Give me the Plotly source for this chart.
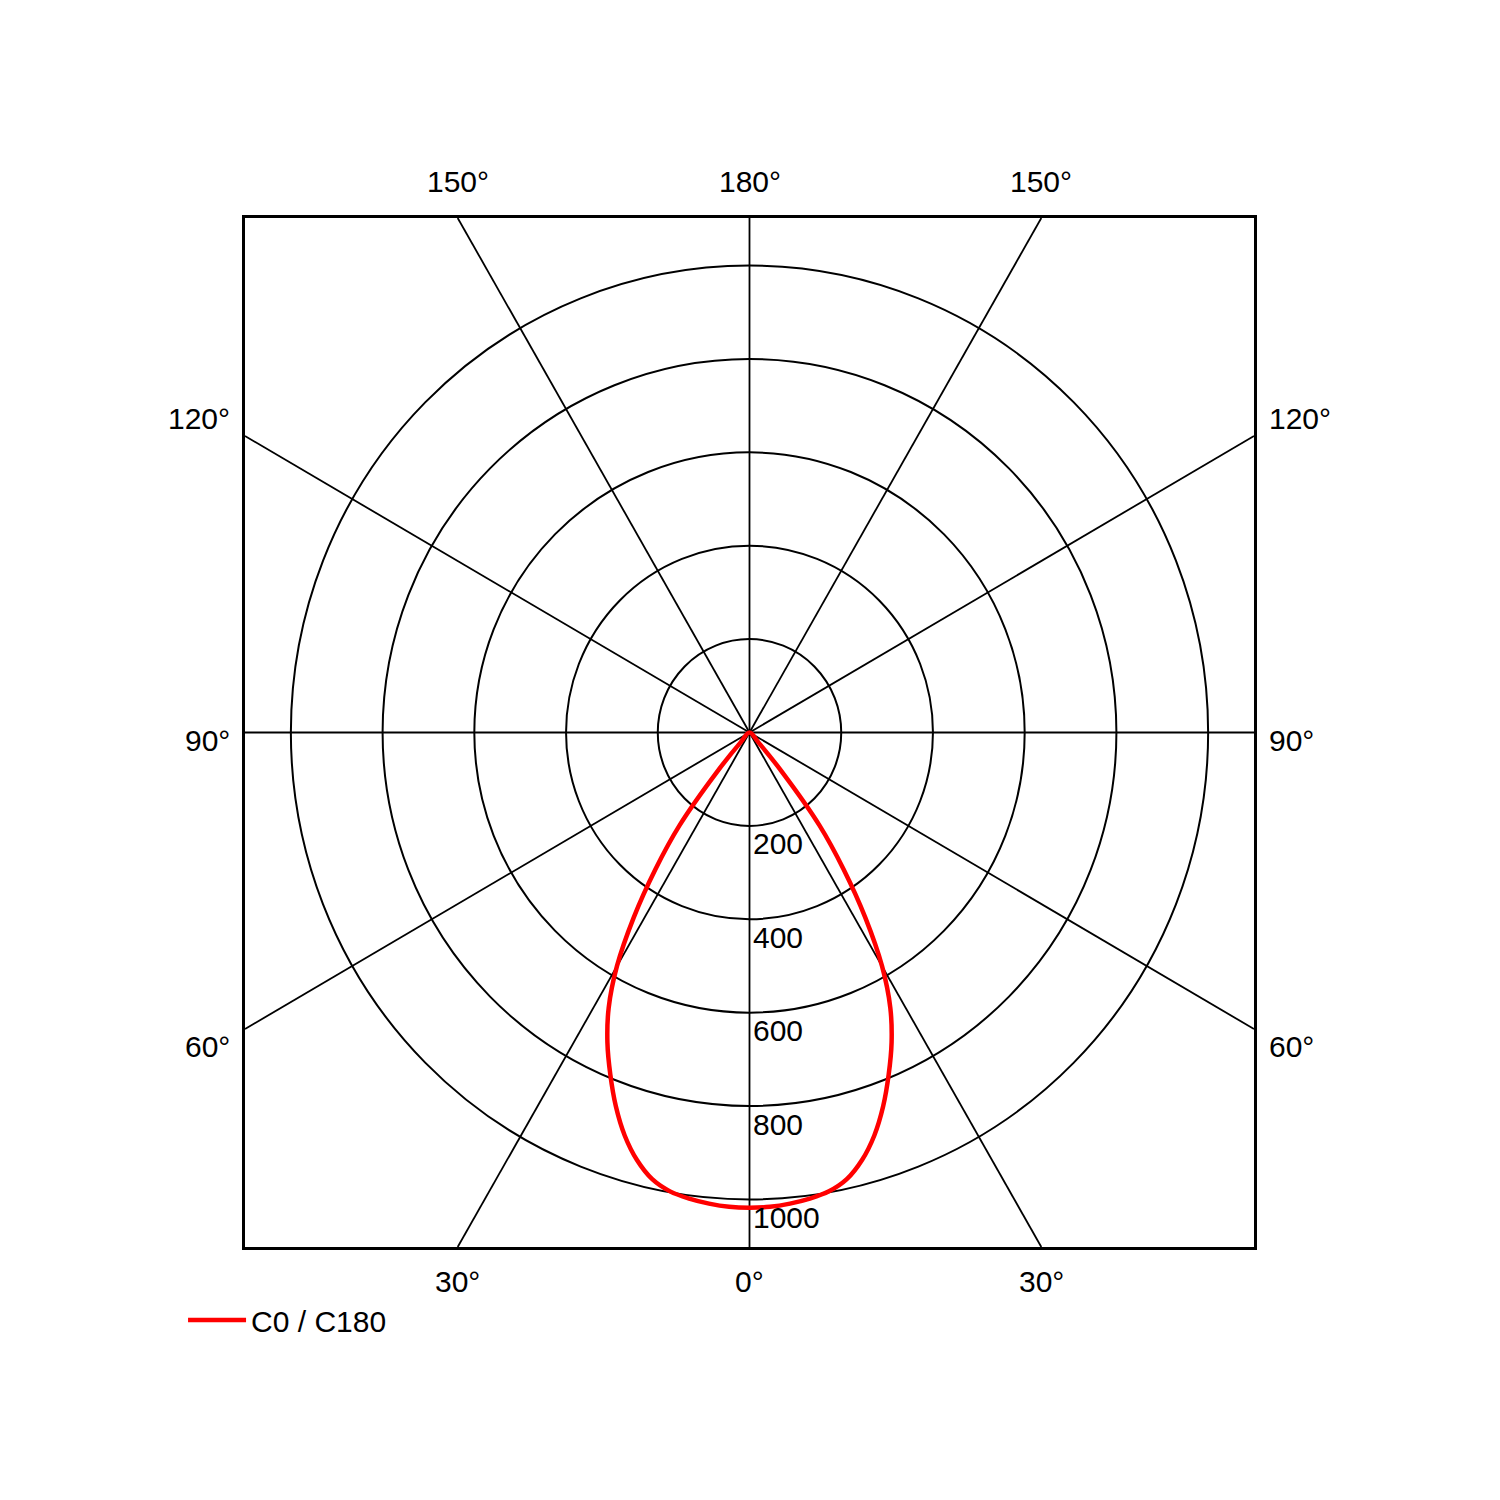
import numpy as np
import plotly.graph_objects as go

# luminous intensity distribution, C0 / C180 plane (symmetric)
gamma_deg = [0, 2.5, 5, 7.5, 10, 12.5, 15, 17.5, 20, 22.5, 25, 27.5, 30, 32.5, 35, 37.5, 40, 42.5, 45]
intensity_cd = [1018, 1017, 1013, 1007, 998, 980, 948, 905, 852, 793, 733, 665, 578, 470, 358, 250, 112, 28, 0]

ring_values = [200, 400, 600, 800, 1000]
spoke_angles = [0, 30, 60, 90, 120, 150, 180]
angle_labels = ["0°", "30°", "60°", "90°", "120°", "150°", "180°"]
series_name = "C0 / C180"

XR, YR = 1100, 1102
FONT = dict(family="Liberation Sans, Arial, sans-serif", size=30, color="black")

g = np.radians(gamma_deg)
I = np.array(intensity_cd, dtype=float)
# left half (C180) then right half (C0), gamma measured from nadir
x = np.concatenate([-(I * np.sin(g))[::-1], (I * np.sin(g))[1:]])
y = np.concatenate([-(I * np.cos(g))[::-1], -(I * np.cos(g))[1:]])

fig = go.Figure()
fig.add_trace(go.Scatter(
    x=x, y=y, mode="lines", name=series_name,
    line=dict(color="#ff0000", width=4.5, shape="spline", smoothing=1),
    hoverinfo="skip",
))

shapes = []
for r in ring_values:
    shapes.append(dict(type="circle", xref="x", yref="y", x0=-r, x1=r, y0=-r, y1=r,
                       line=dict(color="black", width=2), layer="below"))

annotations = []
for ang, lab in zip(spoke_angles, angle_labels):
    sides = [1] if ang in (0, 180) else [-1, 1]
    for s in sides:
        dx = s * np.sin(np.radians(ang))
        dy = -np.cos(np.radians(ang))
        tx = XR / abs(dx) if abs(dx) > 1e-9 else np.inf
        ty = YR / abs(dy) if abs(dy) > 1e-9 else np.inf
        t = min(tx, ty)
        px_, py_ = t * dx, t * dy
        shapes.append(dict(type="line", xref="x", yref="y", x0=0, y0=0, x1=px_, y1=py_,
                           line=dict(color="black", width=1.8), layer="below"))
        if ty <= tx:
            annotations.append(dict(x=px_, y=py_, xref="x", yref="y", text=lab, showarrow=False,
                                    xanchor="center", yanchor="middle",
                                    yshift=37 if dy > 0 else -34, font=FONT))
        else:
            annotations.append(dict(x=px_, y=py_, xref="x", yref="y", text=lab, showarrow=False,
                                    xanchor="left" if s > 0 else "right", yanchor="middle",
                                    xshift=13 * s,
                                    yshift=-8 if ang == 90 else -34 * np.cos(np.radians(ang)),
                                    font=FONT))

for r in ring_values:
    annotations.append(dict(x=0, y=-r, xref="x", yref="y", text=str(r), showarrow=False,
                            xanchor="left", yanchor="middle", xshift=1, yshift=-18, font=FONT))

axis = dict(showgrid=False, zeroline=False, showticklabels=False, ticks="",
            showline=True, mirror=True, linecolor="black", linewidth=3)

fig.update_layout(
    width=1500, height=1500, autosize=False,
    margin=dict(l=237, r=254, t=210, b=261),
    paper_bgcolor="white", plot_bgcolor="white",
    xaxis=dict(range=[-XR, XR], **axis),
    yaxis=dict(range=[-YR, YR], **axis),
    shapes=shapes, annotations=annotations,
    showlegend=True,
    legend=dict(x=-0.0614, y=-0.071, xanchor="left", yanchor="middle",
                font=FONT, itemwidth=58, bgcolor="rgba(0,0,0,0)"),
)

fig.write_html("out.html")
